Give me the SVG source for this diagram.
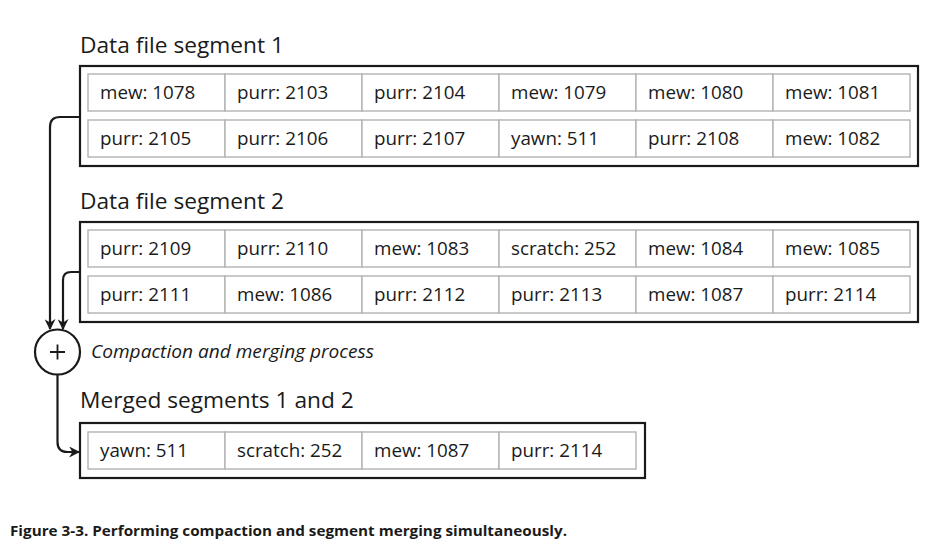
<svg xmlns="http://www.w3.org/2000/svg" width="948" height="558" viewBox="0 0 948 558">
<style>
.outer{fill:none;stroke:#1a1a1a;stroke-width:2.2}
.cell{fill:#fff;stroke:#b3b3b3;stroke-width:1.4}
.ct{font-family:"Open Sans","Liberation Sans",sans-serif;font-size:18.8px;fill:#1a1a1a}
.title{font-family:"Open Sans","Liberation Sans",sans-serif;font-size:22.7px;fill:#1a1a1a}
.lbl{font-family:"Open Sans","Liberation Sans",sans-serif;font-size:18.5px;font-style:italic;fill:#1a1a1a}
.cap{font-family:"Open Sans","Liberation Sans",sans-serif;font-size:13.5px;font-weight:bold;fill:#1a1a1a}
.conn{fill:none;stroke:#1a1a1a;stroke-width:2.2}
</style>
<defs>
<marker id="arr" viewBox="0 0 10 10" refX="9" refY="5" markerWidth="5" markerHeight="5" orient="auto" markerUnits="strokeWidth">
<path d="M0,0 L10,5 L0,10 L3,5 Z" fill="#1a1a1a"/>
</marker>
</defs>
<rect width="948" height="558" fill="#fff"/>

<g id="segment1">
<text class="title" x="80" y="53">Data file segment 1</text>
<rect class="outer" x="80" y="66" width="838" height="100"/>
<g>
<rect class="cell" x="88" y="74" width="137" height="37"/><rect class="cell" x="225" y="74" width="137" height="37"/><rect class="cell" x="362" y="74" width="137" height="37"/><rect class="cell" x="499" y="74" width="137" height="37"/><rect class="cell" x="636" y="74" width="137" height="37"/><rect class="cell" x="773" y="74" width="137" height="37"/>
<rect class="cell" x="88" y="120" width="137" height="37"/><rect class="cell" x="225" y="120" width="137" height="37"/><rect class="cell" x="362" y="120" width="137" height="37"/><rect class="cell" x="499" y="120" width="137" height="37"/><rect class="cell" x="636" y="120" width="137" height="37"/><rect class="cell" x="773" y="120" width="137" height="37"/>
</g>
<text class="ct" x="100" y="99">mew: 1078</text><text class="ct" x="237" y="99">purr: 2103</text><text class="ct" x="374" y="99">purr: 2104</text><text class="ct" x="511" y="99">mew: 1079</text><text class="ct" x="648" y="99">mew: 1080</text><text class="ct" x="785" y="99">mew: 1081</text>
<text class="ct" x="100" y="145">purr: 2105</text><text class="ct" x="237" y="145">purr: 2106</text><text class="ct" x="374" y="145">purr: 2107</text><text class="ct" x="511" y="145">yawn: 511</text><text class="ct" x="648" y="145">purr: 2108</text><text class="ct" x="785" y="145">mew: 1082</text>
</g>

<g id="segment2">
<text class="title" x="80" y="209">Data file segment 2</text>
<rect class="outer" x="80" y="222" width="838" height="100"/>
<g>
<rect class="cell" x="88" y="230" width="137" height="37"/><rect class="cell" x="225" y="230" width="137" height="37"/><rect class="cell" x="362" y="230" width="137" height="37"/><rect class="cell" x="499" y="230" width="137" height="37"/><rect class="cell" x="636" y="230" width="137" height="37"/><rect class="cell" x="773" y="230" width="137" height="37"/>
<rect class="cell" x="88" y="276" width="137" height="37"/><rect class="cell" x="225" y="276" width="137" height="37"/><rect class="cell" x="362" y="276" width="137" height="37"/><rect class="cell" x="499" y="276" width="137" height="37"/><rect class="cell" x="636" y="276" width="137" height="37"/><rect class="cell" x="773" y="276" width="137" height="37"/>
</g>
<text class="ct" x="100" y="255">purr: 2109</text><text class="ct" x="237" y="255">purr: 2110</text><text class="ct" x="374" y="255">mew: 1083</text><text class="ct" x="511" y="255">scratch: 252</text><text class="ct" x="648" y="255">mew: 1084</text><text class="ct" x="785" y="255">mew: 1085</text>
<text class="ct" x="100" y="301">purr: 2111</text><text class="ct" x="237" y="301">mew: 1086</text><text class="ct" x="374" y="301">purr: 2112</text><text class="ct" x="511" y="301">purr: 2113</text><text class="ct" x="648" y="301">mew: 1087</text><text class="ct" x="785" y="301">purr: 2114</text>
</g>

<g id="merge">
<circle cx="57.5" cy="352" r="22.5" fill="#fff" stroke="#1a1a1a" stroke-width="2.2"/>
<path d="M50,352 H65 M57.5,344.5 V359.5" stroke="#1a1a1a" stroke-width="1.8" fill="none"/>
<text class="lbl" x="91" y="358" textLength="283" lengthAdjust="spacingAndGlyphs">Compaction and merging process</text>
</g>

<g id="merged">
<text class="title" x="80" y="408">Merged segments 1 and 2</text>
<rect class="outer" x="80" y="423" width="565" height="55"/>
<rect class="cell" x="88" y="432" width="137" height="37"/><rect class="cell" x="225" y="432" width="137" height="37"/><rect class="cell" x="362" y="432" width="137" height="37"/><rect class="cell" x="499" y="432" width="137" height="37"/>
<text class="ct" x="100" y="457">yawn: 511</text><text class="ct" x="237" y="457">scratch: 252</text><text class="ct" x="374" y="457">mew: 1087</text><text class="ct" x="511" y="457">purr: 2114</text>
</g>

<g id="connectors">
<path class="conn" d="M80,117 H60 Q50,117 50,127 V329" marker-end="url(#arr)"/>
<path class="conn" d="M80,272 H71 Q63,272 63,280 V329" marker-end="url(#arr)"/>
<path class="conn" d="M57.5,374.5 V442 Q57.5,452 67.5,452 H79" marker-end="url(#arr)"/>
</g>

<text class="cap" x="10" y="536" textLength="557" lengthAdjust="spacingAndGlyphs">Figure 3-3. Performing compaction and segment merging simultaneously.</text>
</svg>
